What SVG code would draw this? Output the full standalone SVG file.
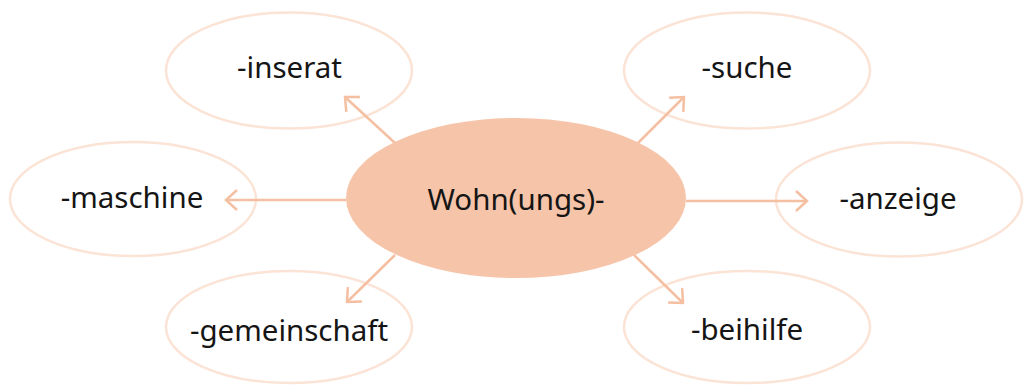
<svg xmlns="http://www.w3.org/2000/svg" width="1029" height="385" viewBox="0 0 1029 385">
  <defs>
    <marker id="chev" viewBox="0 0 14 22" refX="12" refY="11" markerWidth="14" markerHeight="22" markerUnits="userSpaceOnUse" orient="auto">
      <path d="M1,1 L12,11 L1,21" fill="none" stroke="#f5bfa2" stroke-width="2.5"/>
    </marker>
  </defs>
  <style>
    .leaf { fill: #ffffff; stroke: #fbe3d6; stroke-width: 2.5; }
    .hub { fill: #f6c4a9; }
    .lbl { font-family: "Noto Sans", "Open Sans", sans-serif; font-size: 29.5px; fill: #151515; text-anchor: middle; }
    .link { stroke: #f5bfa2; stroke-width: 2.5; fill: none; marker-end: url(#chev); }
  </style>
  <rect width="1029" height="385" fill="#ffffff"/>

  <g id="node-inserat">
    <ellipse class="leaf" cx="289" cy="70.5" rx="123" ry="58"/>
    <text class="lbl" x="289.5" y="78">-inserat</text>
  </g>
  <g id="node-suche">
    <ellipse class="leaf" cx="747" cy="70.5" rx="123" ry="58"/>
    <text class="lbl" x="747" y="78">-suche</text>
  </g>
  <g id="node-maschine">
    <ellipse class="leaf" cx="133" cy="199" rx="123" ry="57"/>
    <text class="lbl" x="132" y="208">-maschine</text>
  </g>
  <g id="node-anzeige">
    <ellipse class="leaf" cx="899" cy="199.5" rx="123" ry="57"/>
    <text class="lbl" x="898" y="209">-anzeige</text>
  </g>
  <g id="node-gemeinschaft">
    <ellipse class="leaf" cx="289" cy="327" rx="123" ry="56"/>
    <text class="lbl" x="289" y="341">-gemeinschaft</text>
  </g>
  <g id="node-beihilfe">
    <ellipse class="leaf" cx="747" cy="327" rx="123" ry="56"/>
    <text class="lbl" x="747" y="340">-beihilfe</text>
  </g>

  <g id="connectors">
    <line class="link" x1="395" y1="143" x2="345" y2="97"/>
    <line class="link" x1="638" y1="143" x2="684" y2="97"/>
    <line class="link" x1="346" y1="200" x2="226" y2="200"/>
    <line class="link" x1="686" y1="201" x2="807" y2="201"/>
    <line class="link" x1="395" y1="255" x2="347" y2="302"/>
    <line class="link" x1="634" y1="255" x2="683" y2="303"/>
  </g>

  <g id="node-wohnungs">
    <ellipse class="hub" cx="516" cy="198" rx="170" ry="80"/>
    <text class="lbl" x="516" y="210">Wohn(ungs)-</text>
  </g>
</svg>
